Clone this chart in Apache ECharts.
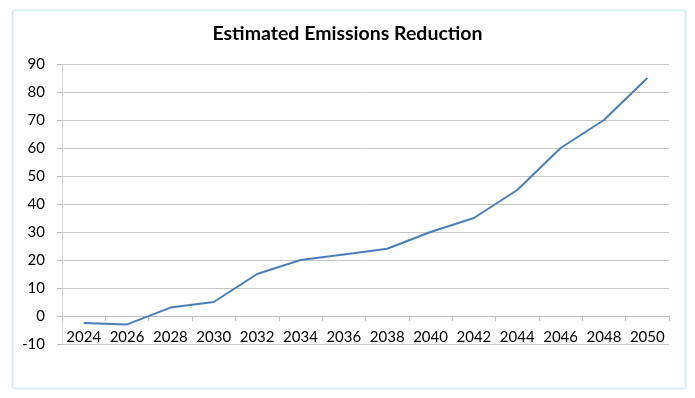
<!DOCTYPE html>
<html>
<head>
<meta charset="utf-8">
<script src="https://cdn.jsdelivr.net/npm/echarts@6/dist/echarts.min.js"></script>
<style>
    html, body { margin: 0; padding: 0; background: #fff; }
    #chart { width: 695px; height: 398px; }
</style>
</head>
<body>
<div id="chart"></div>
<script>
const years = ["2024", "2026", "2028", "2030", "2032", "2034", "2036", "2038", "2040", "2042", "2044", "2046", "2048", "2050"];
const reduction = [-2.5, -3, 3, 5, 15, 20, 22, 24, 30, 35, 45, 60, 70, 85];
const yMin = -10;
const yMax = 90;
const yStep = 10;

const chart = echarts.init(document.getElementById("chart"));

let options = {
    backgroundColor: "#fff",
    animation: false,
    title: {
        text: "Estimated Emissions Reduction",
        left: "center",
        top: 19,
        textStyle: {
            fontFamily: "Lato",
            fontSize: 19.5,
            fontWeight: "bold",
            color: "#000",
        },
    },
    // outer chart frame
    graphic: [
        {
            type: "rect",
            left: 10,
            top: 8,
            shape: { width: 673, height: 378, r: 2 },
            style: { fill: "none", stroke: "#dbecf2", lineWidth: 2 },
            silent: true,
        },
    ],
    grid: {
        left: 62,
        right: 26,
        top: 64,
        bottom: 54,
    },
    xAxis: {
        type: "category",
        data: years,
        boundaryGap: true,
        // sits on the zero line (one step above the bottom)
        offset: -28,
        axisLine: {
            show: true,
            onZero: false,
            lineStyle: { color: "#bfbfbf", width: 1 },
        },
        axisTick: {
            show: true,
            length: 5,
            lineStyle: { color: "#bfbfbf" },
        },
        axisLabel: {
            interval: 0,
            margin: 14,
            fontFamily: "Lato",
            fontSize: 15,
            color: "#000",
        },
        splitLine: { show: false },
    },
    yAxis: {
        type: "value",
        min: yMin,
        max: yMax,
        interval: yStep,
        axisLine: {
            show: true,
            lineStyle: { color: "#d9d9d9", width: 1 },
        },
        axisTick: {
            show: true,
            length: 5,
            lineStyle: { color: "#bfbfbf" },
        },
        axisLabel: {
            margin: 17,
            fontFamily: "Lato",
            fontSize: 15,
            color: "#000",
        },
        splitLine: {
            show: true,
            lineStyle: { color: "#c6c6c6", width: 1 },
        },
    },
    series: [
        {
            type: "line",
            data: reduction,
            showSymbol: false,
            smooth: false,
            lineStyle: { color: "#4a7ebb", width: 2 },
            itemStyle: { color: "#4a7ebb" },
        },
    ],
};

chart.setOption(options);
</script>
</body>
</html>
